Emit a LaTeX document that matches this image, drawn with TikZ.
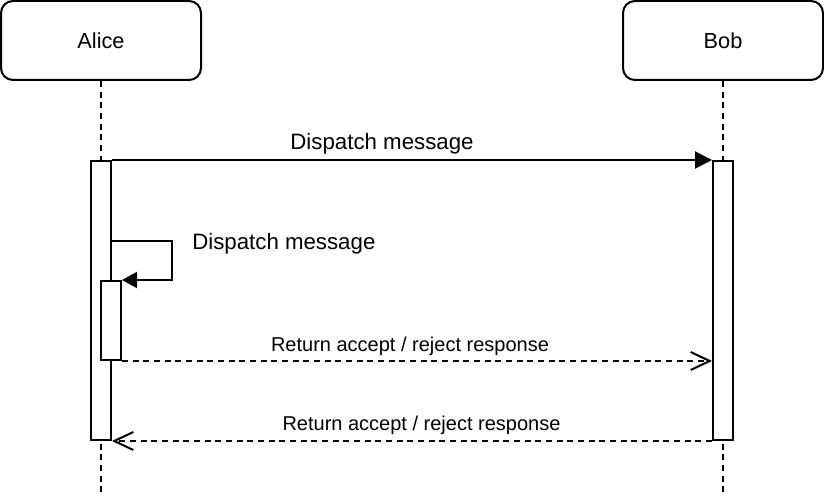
\documentclass[tikz,border=0pt]{standalone}
\usepackage{fontspec}
\setmainfont{Liberation Sans}
\usetikzlibrary{arrows.meta}
\begin{document}
\begin{tikzpicture}[x=0.75pt,y=-0.75pt,
  actor/.style={draw,line width=1.5pt,rounded corners=9pt,minimum width=150pt,minimum height=59.25pt,inner sep=0pt,font=\fontsize{16.3}{19}\selectfont},
  actbox/.style={draw,fill=white,line width=1.5pt,minimum width=15pt,inner sep=0pt},
  lifeline/.style={line width=1.5pt,dash pattern=on 4.5pt off 3.5pt},
  msg/.style={line width=1.5pt,-{Triangle[length=12.75pt,width=12.75pt]}},
  selfmsg/.style={line width=1.5pt,-{Triangle[length=11.25pt,width=12pt]}},
  ret/.style={line width=1.5pt,dash pattern=on 4.5pt off 3.5pt,-{Straight Barb[length=14.25pt,width=13.5pt,line width=1.5pt]}},
  lbl/.style={inner sep=0pt,font=\fontsize{16.7}{19}\selectfont},
  rlbl/.style={inner sep=0pt,font=\fontsize{15}{18}\selectfont}]
\useasboundingbox (0,0) rectangle (824,502);
% actors
\node[actor] (alice) at (101,40.5) {Alice};
\node[actor] (bob) at (723,40.5) {Bob};
\coordinate (aend) at (101,495);
\coordinate (bend) at (723,495);
% lifelines
\draw[lifeline] (alice.south) -- (aend);
\draw[lifeline] (bob.south) -- (bend);
% activations
\node[actbox,minimum height=209.25pt] (aact) at (101,300.5) {};
\node[actbox,minimum height=209.25pt] (bact) at (723,300.5) {};
\node[actbox,minimum height=59.25pt] (sact) at (111,320.5) {};
% messages
\draw[msg] (aact.north east) -- (bact.north west);
\node[lbl,anchor=base] (l1) at (382,150) {Dispatch message};
\coordinate (s1) at (aact.east |- 0,241);
\draw[selfmsg] (s1) -- ++(60,0) |- (sact.north east);
\node[lbl,anchor=base west] (l2) at (192,250) {Dispatch message};
\draw[ret] (sact.south east) -- (bact.west |- sact.south);
\node[rlbl,anchor=base] (l3) at (410,351) {Return accept / reject response};
\draw[ret] (bact.south west) -- (aact.south east);
\node[rlbl,anchor=base] (l4) at (421.5,430) {Return accept / reject response};
\end{tikzpicture}
\end{document}
